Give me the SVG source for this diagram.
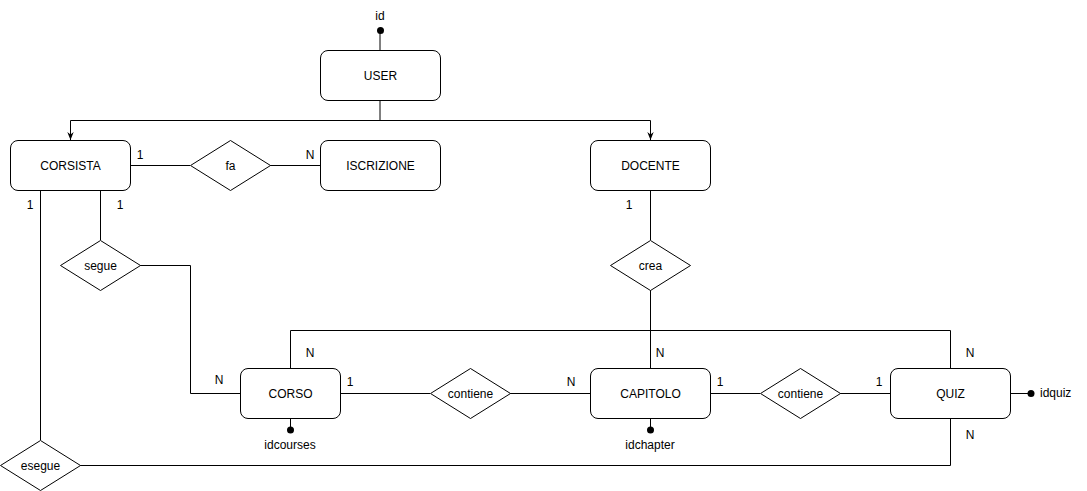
<svg xmlns="http://www.w3.org/2000/svg" width="1087" height="491" viewBox="0 0 1087 491">
<style>
.box{fill:#fff;stroke:#000;stroke-width:1}
.ln{fill:none;stroke:#000;stroke-width:1}
text{font-family:"Liberation Sans",Arial,sans-serif;font-size:12px;fill:#000}
.c{text-anchor:middle;dominant-baseline:central}
.l{dominant-baseline:central}
.dot{fill:#000}
</style>
<defs>
<marker id="arr" viewBox="0 0 10 10" refX="10" refY="5" markerWidth="8" markerHeight="8" markerUnits="userSpaceOnUse" orient="auto">
<path d="M0,1 L10,5 L0,9 L3,5 Z" fill="#000"/>
</marker>
</defs>
<rect width="1087" height="491" fill="#fff"/>
<g id="connectors">
<path class="ln" d="M380,30.5 V50.5"/>
<path class="ln" d="M380,100.5 V120.5 H70.5 V140" marker-end="url(#arr)"/>
<path class="ln" d="M380,120.5 H650.5 V140" marker-end="url(#arr)"/>
<path class="ln" d="M130,165.5 H190"/>
<path class="ln" d="M270,165.5 H320"/>
<path class="ln" d="M100.5,190 V240"/>
<path class="ln" d="M40.5,190 V440"/>
<path class="ln" d="M140,265.5 H190.5 V393.5 H240"/>
<path class="ln" d="M650.5,190 V240"/>
<path class="ln" d="M650.5,290 V368"/>
<path class="ln" d="M290.5,368 V330.5 H950.5 V368"/>
<path class="ln" d="M340,393.5 H430"/>
<path class="ln" d="M510,393.5 H590"/>
<path class="ln" d="M710,393.5 H760"/>
<path class="ln" d="M840,393.5 H890"/>
<path class="ln" d="M80,465.5 H950.5 V418"/>
<path class="ln" d="M290.5,418 V430"/>
<path class="ln" d="M650.5,418 V430"/>
<path class="ln" d="M1010,393.5 H1031"/>
<circle class="dot" cx="380.5" cy="30.5" r="3.5"/>
<circle class="dot" cx="290.5" cy="430" r="3.5"/>
<circle class="dot" cx="650.5" cy="430" r="3.5"/>
<circle class="dot" cx="1031" cy="393.5" r="3.5"/>
<text class="c" x="380" y="16">id</text>
<text class="c" x="290" y="445">idcourses</text>
<text class="c" x="650" y="445">idchapter</text>
<text class="l" x="1040" y="393">idquiz</text>
<text class="c" x="140" y="155">1</text>
<text class="c" x="310" y="155">N</text>
<text class="c" x="30" y="205">1</text>
<text class="c" x="120" y="205">1</text>
<text class="c" x="629" y="205">1</text>
<text class="c" x="310" y="353">N</text>
<text class="c" x="219" y="380">N</text>
<text class="c" x="350" y="382">1</text>
<text class="c" x="571" y="382">N</text>
<text class="c" x="660" y="353">N</text>
<text class="c" x="720" y="382">1</text>
<text class="c" x="879" y="382">1</text>
<text class="c" x="970" y="353">N</text>
<text class="c" x="970" y="435">N</text>
</g>
<g id="user"><rect class="box" x="320.5" y="50.5" width="120" height="50" rx="7.5"/><text class="c" x="380.5" y="75.5">USER</text></g>
<g id="corsista"><rect class="box" x="10.5" y="140.5" width="120" height="50" rx="7.5"/><text class="c" x="70.5" y="165.5">CORSISTA</text></g>
<g id="fa"><path class="box" d="M190.5,165.5 L230.5,140.5 L270.5,165.5 L230.5,190.5 Z"/><text class="c" x="230.5" y="165.5">fa</text></g>
<g id="iscrizione"><rect class="box" x="320.5" y="140.5" width="120" height="50" rx="7.5"/><text class="c" x="380.5" y="165.5">ISCRIZIONE</text></g>
<g id="docente"><rect class="box" x="590.5" y="140.5" width="120" height="50" rx="7.5"/><text class="c" x="650.5" y="165.5">DOCENTE</text></g>
<g id="segue"><path class="box" d="M60.5,265.5 L100.5,240.5 L140.5,265.5 L100.5,290.5 Z"/><text class="c" x="100.5" y="265.5">segue</text></g>
<g id="crea"><path class="box" d="M610.5,265.5 L650.5,240.5 L690.5,265.5 L650.5,290.5 Z"/><text class="c" x="650.5" y="265.5">crea</text></g>
<g id="corso"><rect class="box" x="240.5" y="368.5" width="100" height="50" rx="7.5"/><text class="c" x="290.5" y="393.5">CORSO</text></g>
<g id="contiene1"><path class="box" d="M430.5,393.5 L470.5,368.5 L510.5,393.5 L470.5,418.5 Z"/><text class="c" x="470.5" y="393.5">contiene</text></g>
<g id="capitolo"><rect class="box" x="590.5" y="368.5" width="120" height="50" rx="7.5"/><text class="c" x="650.5" y="393.5">CAPITOLO</text></g>
<g id="contiene2"><path class="box" d="M760.5,393.5 L800.5,368.5 L840.5,393.5 L800.5,418.5 Z"/><text class="c" x="800.5" y="393.5">contiene</text></g>
<g id="quiz"><rect class="box" x="890.5" y="368.5" width="120" height="50" rx="7.5"/><text class="c" x="950.5" y="393.5">QUIZ</text></g>
<g id="esegue"><path class="box" d="M0.5,465.5 L40.5,440.5 L80.5,465.5 L40.5,490.5 Z"/><text class="c" x="40.5" y="465.5">esegue</text></g>
</svg>
